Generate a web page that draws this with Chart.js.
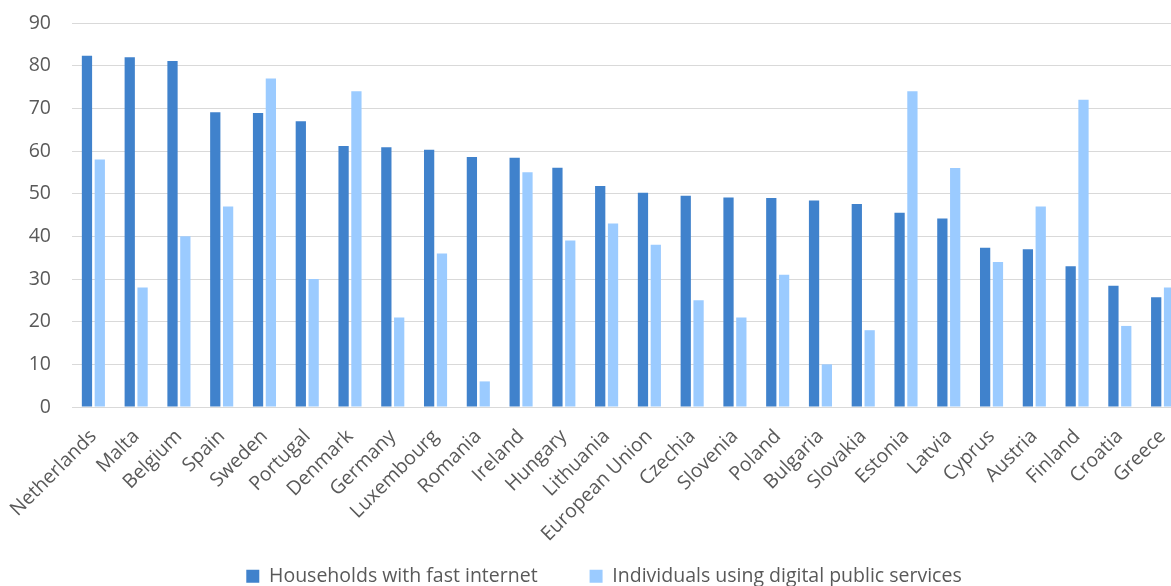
<!DOCTYPE html>
<html>
<head>
<meta charset="utf-8">
<script src="https://cdn.jsdelivr.net/npm/chart.js@4"></script>
<style>
  html, body { margin: 0; padding: 0; background: #fff; overflow: hidden; }
  #wrap { position: relative; width: 1184px; height: 596px; }
</style>
</head>
<body>
<div id="wrap"><canvas id="chart"></canvas></div>
<script>
// Categories and values
const countries = ['Netherlands', 'Malta', 'Belgium', 'Spain', 'Sweden', 'Portugal', 'Denmark',
  'Germany', 'Luxembourg', 'Romania', 'Ireland', 'Hungary', 'Lithuania', 'European Union',
  'Czechia', 'Slovenia', 'Poland', 'Bulgaria', 'Slovakia', 'Estonia', 'Latvia', 'Cyprus',
  'Austria', 'Finland', 'Croatia', 'Greece'];

const fastInternet = [82.3, 82.0, 81.1, 69.1, 68.9, 67.0, 61.2, 60.9, 60.3, 58.6, 58.4, 56.1,
  51.8, 50.2, 49.5, 49.1, 49.0, 48.4, 47.6, 45.5, 44.2, 37.3, 37.0, 33.0, 28.4, 25.7];

const digitalServices = [58, 28, 40, 47, 77, 30, 74, 21, 36, 6, 55, 39, 43, 38, 25, 21, 31,
  10, 18, 74, 56, 34, 47, 72, 19, 28];

const yTicks = [0, 10, 20, 30, 40, 50, 60, 70, 80, 90];

const textColor = '#595959';
const gridColor = '#d9d9d9';
const baseFont = { family: 'Open Sans', size: 19.5 };

// Let the rotated country names draw below the fixed axis box instead of being clipped
const labelRoom = {
    id: 'labelRoom',
    afterLayout(chart) {
        const x = chart.scales.x;
        x.bottom = chart.legend.bottom;
    }
};

function createChart() {
    const ctx = document.getElementById('chart').getContext('2d');
    new Chart(ctx, {
        type: 'bar',
        data: {
            labels: countries,
            datasets: [{
                label: 'Households with fast internet',
                data: fastInternet,
                backgroundColor: '#4082cc',
                categoryPercentage: 0.6,
                barPercentage: 0.8
            }, {
                label: 'Individuals using digital public services',
                data: digitalServices,
                backgroundColor: '#9bcbff',
                categoryPercentage: 0.6,
                barPercentage: 0.8
            }]
        },
        options: {
            responsive: true,
            maintainAspectRatio: false,
            animation: false,
            layout: {
                padding: { left: 24, right: 0, top: 23, bottom: 0 }
            },
            scales: {
                x: {
                    grid: { display: false, drawTicks: false },
                    border: { display: false },
                    ticks: {
                        color: textColor,
                        font: baseFont,
                        minRotation: 45,
                        maxRotation: 45,
                        autoSkip: false,
                        padding: 18
                    },
                    afterFit: (scale) => {
                        scale.height = 107.5;
                        scale.paddingLeft = 0;
                        scale.paddingRight = 0;
                    }
                },
                y: {
                    min: 0,
                    max: 90,
                    afterBuildTicks: (scale) => {
                        scale.ticks = yTicks.map(v => ({ value: v }));
                    },
                    grid: { color: gridColor, lineWidth: 1, drawTicks: false },
                    border: { display: false },
                    ticks: {
                        color: textColor,
                        font: baseFont,
                        padding: 21
                    },
                    afterFit: (scale) => {
                        scale.width = 48;
                        scale.paddingTop = 0;
                        scale.paddingBottom = 0;
                    }
                }
            },
            plugins: {
                legend: {
                    position: 'bottom',
                    labels: {
                        color: textColor,
                        font: baseFont,
                        boxWidth: 13,
                        boxHeight: 13,
                        padding: 52
                    }
                },
                tooltip: { enabled: false }
            }
        },
        plugins: [labelRoom]
    });
}

document.addEventListener('DOMContentLoaded', createChart);
</script>
</body>
</html>
